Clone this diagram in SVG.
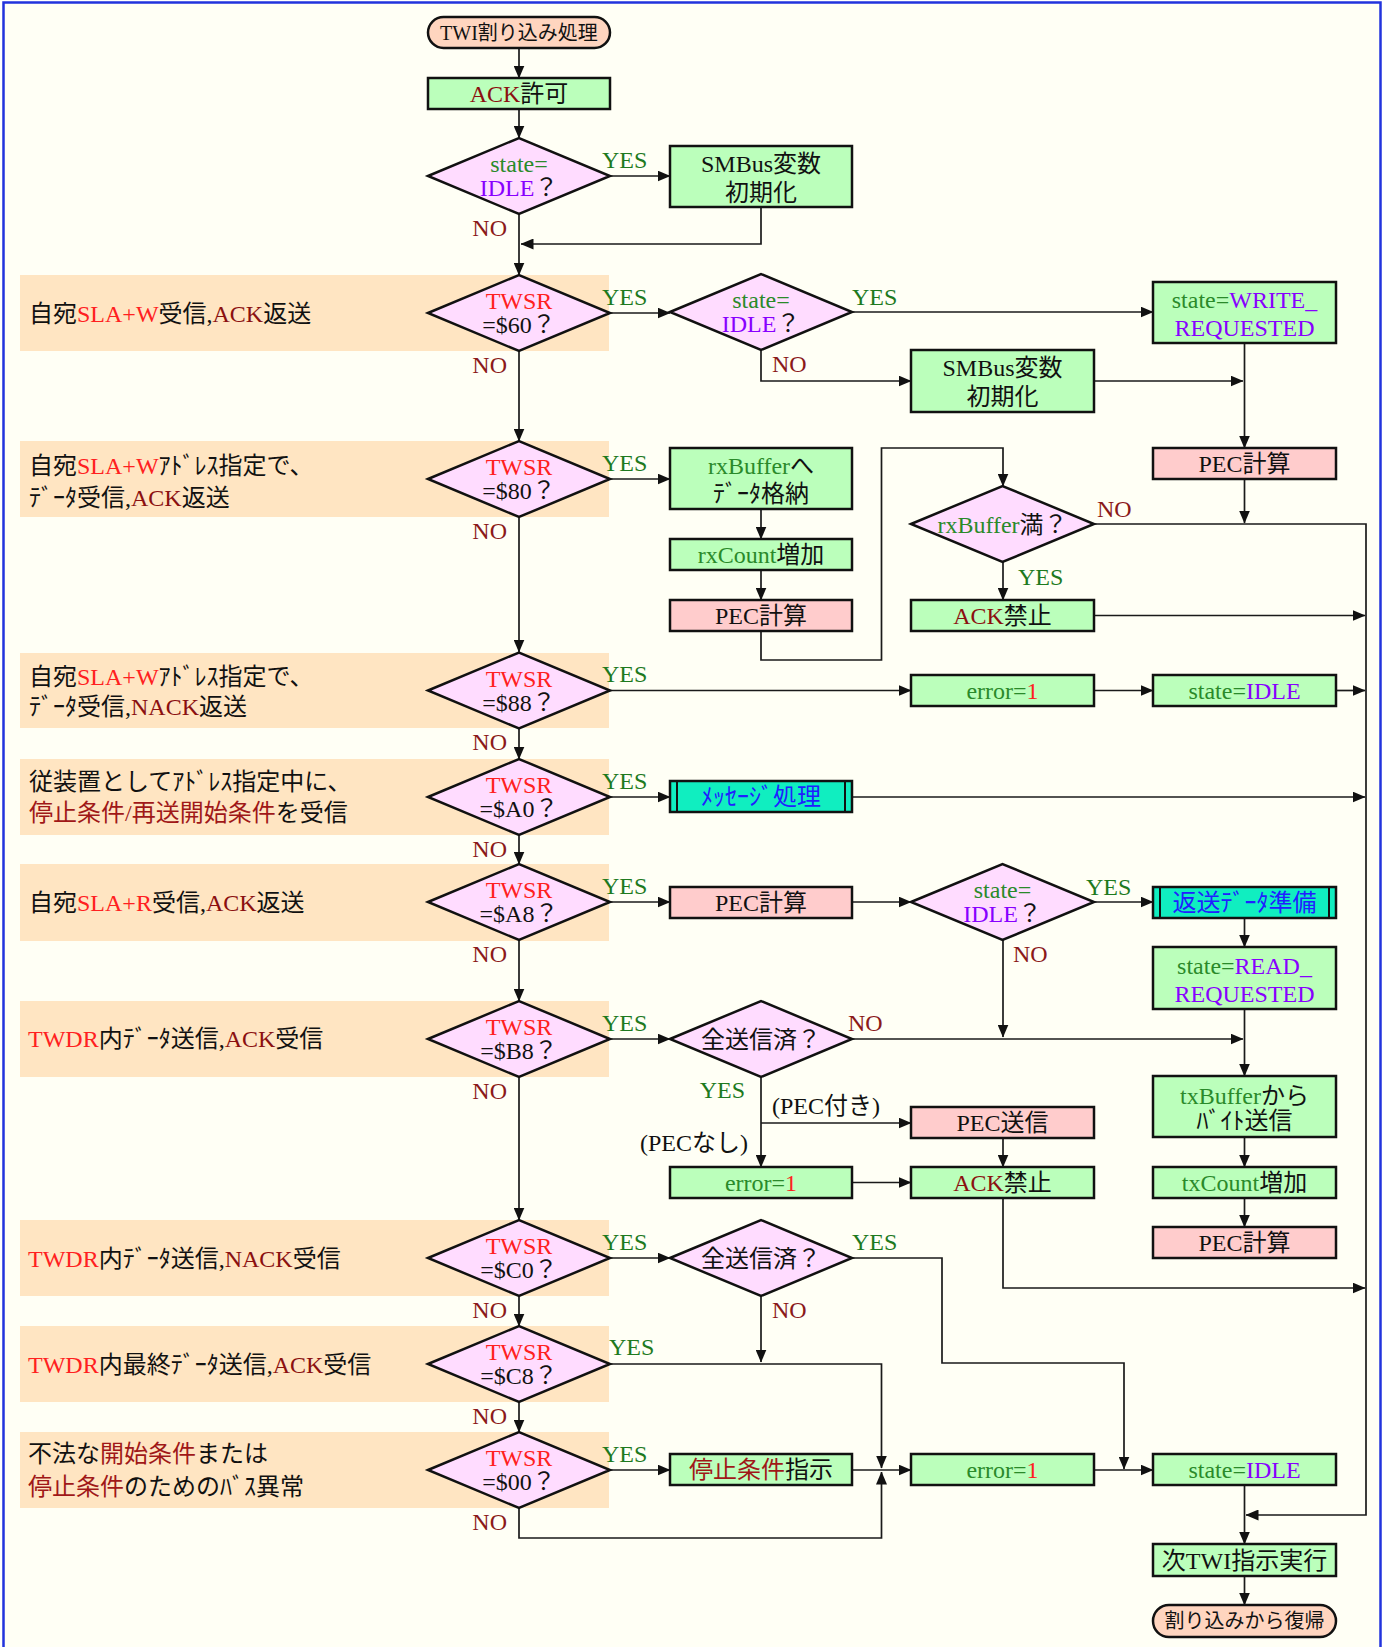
<svg xmlns="http://www.w3.org/2000/svg" width="1387" height="1647" viewBox="0 0 1387 1647">
<style>
text{font-family:"Liberation Serif","Noto Sans CJK JP",serif;font-size:24px;fill:#111}
.c{text-anchor:middle}
.tm{font-size:20px}
.band{fill:#ffe5c2}
.bx{stroke:#111;stroke-width:2.5}
.gb{fill:#bbffbb}
.pb{fill:#ffcccc}
.cb{fill:#10eec0}
.db{fill:#ffdcff}
.tb{fill:#ffd5bf}
.il{stroke:#111;stroke-width:2}
.ln{fill:none;stroke:#1a1a1a;stroke-width:1.7;marker-end:url(#ah)}
.yes{fill:#1e7a1e}
.no{fill:#8b1a1a}
.gr{fill:#2a8a2a}
.pu{fill:#8800ff}
.rd{fill:#ff2020}
.dr{fill:#8b1010}
.dr2{fill:#a01818}
.bl{fill:#2020ff}
</style>
<defs>
<marker id="ah" markerUnits="userSpaceOnUse" markerWidth="13" markerHeight="11" refX="12.5" refY="5.5" orient="auto">
<path d="M0,0 L13,5.5 L0,11 z" fill="#111"/>
</marker>
</defs>
<rect x="0" y="0" width="1387" height="1647" fill="#ffffff"/>
<rect x="3.5" y="2.5" width="1377" height="1660" fill="#fffff5" stroke="#2233dd" stroke-width="2.5"/>

<g id="bands">
<rect class="band" x="20" y="275" width="589" height="76"/>
<rect class="band" x="20" y="441" width="589" height="76"/>
<rect class="band" x="20" y="653" width="589" height="75"/>
<rect class="band" x="20" y="759" width="589" height="76"/>
<rect class="band" x="20" y="864" width="589" height="77"/>
<rect class="band" x="20" y="1001" width="589" height="76"/>
<rect class="band" x="20" y="1220" width="589" height="76"/>
<rect class="band" x="20" y="1326" width="589" height="76"/>
<rect class="band" x="20" y="1432" width="589" height="76"/>
<text x="29" y="321.5">自宛<tspan class="rd">SLA+W</tspan>受信,<tspan class="dr">ACK</tspan>返送</text>
<text x="29" y="473.5">自宛<tspan class="rd">SLA+W</tspan>ｱﾄﾞﾚｽ指定で、</text>
<text x="29" y="505.5">ﾃﾞｰﾀ受信,<tspan class="dr">ACK</tspan>返送</text>
<text x="29" y="685">自宛<tspan class="rd">SLA+W</tspan>ｱﾄﾞﾚｽ指定で、</text>
<text x="29" y="715">ﾃﾞｰﾀ受信,<tspan class="dr">NACK</tspan>返送</text>
<text x="29" y="790">従装置としてｱﾄﾞﾚｽ指定中に、</text>
<text x="29" y="821"><tspan class="dr2">停止条件/再送開始条件</tspan>を受信</text>
<text x="29" y="910.5">自宛<tspan class="rd">SLA+R</tspan>受信,<tspan class="dr">ACK</tspan>返送</text>
<text x="28" y="1047"><tspan class="rd">TWDR</tspan>内ﾃﾞｰﾀ送信,<tspan class="dr">ACK</tspan>受信</text>
<text x="28" y="1266.5"><tspan class="rd">TWDR</tspan>内ﾃﾞｰﾀ送信,<tspan class="dr">NACK</tspan>受信</text>
<text x="28" y="1372.5"><tspan class="rd">TWDR</tspan>内最終ﾃﾞｰﾀ送信,<tspan class="dr">ACK</tspan>受信</text>
<text x="28" y="1462">不法な<tspan class="dr2">開始条件</tspan>または</text>
<text x="28" y="1494.5"><tspan class="dr2">停止条件</tspan>のためのﾊﾞｽ異常</text>
</g>

<g id="connectors">
<path class="ln" d="M519,48 V78"/>
<path class="ln" d="M519,109 V138"/>
<path class="ln" d="M610,176 H670"/>
<path class="ln" d="M519,214 V275"/>
<path class="ln" d="M761,207 V244 H521"/>
<path class="ln" d="M610,313 H670"/>
<path class="ln" d="M852,312 H1153"/>
<path class="ln" d="M761,350 V381 H911"/>
<path class="ln" d="M1094,381 H1243"/>
<path class="ln" d="M1244.5,343 V448"/>
<path class="ln" d="M1244.5,479 V523"/>
<path class="ln" d="M519,351 V441"/>
<path class="ln" d="M610,479 H670"/>
<path class="ln" d="M761,509 V539"/>
<path class="ln" d="M761,570 V600"/>
<path class="ln" d="M761,631 V660 H881.5 V448 H1003 V486"/>
<path class="ln" d="M1094,524 H1366 V1515 H1246"/>
<path class="ln" d="M1003,562 V600"/>
<path class="ln" d="M1094,615.5 H1365"/>
<path class="ln" d="M519,517 V652"/>
<path class="ln" d="M610,690.5 H911"/>
<path class="ln" d="M1094,690.5 H1153"/>
<path class="ln" d="M1336,690.5 H1365"/>
<path class="ln" d="M519,728 V759"/>
<path class="ln" d="M610,797 H670"/>
<path class="ln" d="M852,797 H1365"/>
<path class="ln" d="M519,835 V864"/>
<path class="ln" d="M610,902 H670"/>
<path class="ln" d="M852,902 H911"/>
<path class="ln" d="M1094,902 H1153"/>
<path class="ln" d="M1244.5,918 V947"/>
<path class="ln" d="M1003,940 V1037"/>
<path class="ln" d="M519,940 V1001"/>
<path class="ln" d="M610,1039 H670"/>
<path class="ln" d="M852,1039 H1243"/>
<path class="ln" d="M1244.5,1009 V1076"/>
<path class="ln" d="M1244.5,1137 V1167"/>
<path class="ln" d="M1244.5,1198 V1227"/>
<path class="ln" d="M761,1077 V1167"/>
<path class="ln" d="M761,1123 H911"/>
<path class="ln" d="M1003,1138 V1167"/>
<path class="ln" d="M852,1182.5 H911"/>
<path class="ln" d="M1003,1198 V1288 H1365"/>
<path class="ln" d="M519,1077 V1220"/>
<path class="ln" d="M610,1258 H670"/>
<path class="ln" d="M852,1258 H942 V1363 H1124 V1469"/>
<path class="ln" d="M761,1296 V1362"/>
<path class="ln" d="M519,1296 V1326"/>
<path class="ln" d="M610,1364 H881.5 V1468"/>
<path class="ln" d="M519,1402 V1432"/>
<path class="ln" d="M610,1470 H670"/>
<path class="ln" d="M852,1470 H911"/>
<path class="ln" d="M519,1508 V1538 H881.5 V1472"/>
<path class="ln" d="M1094,1470 H1153"/>
<path class="ln" d="M1244.5,1485 V1544"/>
<path class="ln" d="M1244.5,1576 V1605"/>
<text class="yes" x="602" y="168">YES</text>
<text class="no" x="507" y="236" text-anchor="end">NO</text>
<text class="yes" x="602" y="305">YES</text>
<text class="no" x="507" y="373" text-anchor="end">NO</text>
<text class="yes" x="852" y="305">YES</text>
<text class="no" x="772" y="372">NO</text>
<text class="yes" x="602" y="471">YES</text>
<text class="no" x="507" y="539" text-anchor="end">NO</text>
<text class="no" x="1097" y="517">NO</text>
<text class="yes" x="1018" y="585">YES</text>
<text class="yes" x="602" y="682">YES</text>
<text class="no" x="507" y="750" text-anchor="end">NO</text>
<text class="yes" x="602" y="789">YES</text>
<text class="no" x="507" y="857" text-anchor="end">NO</text>
<text class="yes" x="602" y="894">YES</text>
<text class="no" x="507" y="962" text-anchor="end">NO</text>
<text class="yes" x="1086" y="895">YES</text>
<text class="no" x="1013" y="962">NO</text>
<text class="yes" x="602" y="1031">YES</text>
<text class="no" x="507" y="1099" text-anchor="end">NO</text>
<text class="no" x="848" y="1031">NO</text>
<text class="yes" x="745" y="1098" text-anchor="end">YES</text>
<text x="772" y="1113.5">(PEC付き)</text>
<text x="748" y="1150.5" text-anchor="end">(PECなし)</text>
<text class="yes" x="602" y="1250">YES</text>
<text class="no" x="507" y="1318" text-anchor="end">NO</text>
<text class="yes" x="852" y="1250">YES</text>
<text class="no" x="772" y="1318">NO</text>
<text class="yes" x="609" y="1355">YES</text>
<text class="no" x="507" y="1424" text-anchor="end">NO</text>
<text class="yes" x="602" y="1462">YES</text>
<text class="no" x="507" y="1530" text-anchor="end">NO</text>
</g>

<g id="start"><rect class="bx tb" x="428" y="17" width="182" height="31" rx="15.5"/><text class="c tm" x="519" y="39.5">TWI割り込み処理</text></g>
<g id="ackEnable"><rect class="bx gb" x="428" y="78" width="182" height="31"/><text class="c" x="519" y="102"><tspan class="dr">ACK</tspan>許可</text></g>
<g id="dIdle0"><polygon class="bx db" points="428,176 519,138 610,176 519,214"/><text class="c gr" x="519" y="172">state=</text><text class="c" x="519" y="196"><tspan class="pu">IDLE</tspan>？</text></g>
<g id="smbus1"><rect class="bx gb" x="670" y="146" width="182" height="61"/><text class="c" x="761" y="171.5">SMBus変数</text><text class="c" x="761" y="201">初期化</text></g>

<g id="d60"><polygon class="bx db" points="428,313 519,275 610,313 519,351"/><text class="c rd" x="519" y="309">TWSR</text><text class="c" x="519" y="333">=$60？</text></g>
<g id="dIdle1"><polygon class="bx db" points="670,312 761,274 852,312 761,350"/><text class="c gr" x="761" y="308">state=</text><text class="c" x="761" y="332"><tspan class="pu">IDLE</tspan>？</text></g>
<g id="writeReq"><rect class="bx gb" x="1153" y="282" width="183" height="61"/><text class="c" x="1244.5" y="307.5"><tspan class="gr">state=</tspan><tspan class="pu">WRITE_</tspan></text><text class="c pu" x="1244.5" y="336">REQUESTED</text></g>
<g id="smbus2"><rect class="bx gb" x="911" y="350" width="183" height="62"/><text class="c" x="1002.5" y="375.5">SMBus変数</text><text class="c" x="1002.5" y="405">初期化</text></g>
<g id="pec4a"><rect class="bx pb" x="1153" y="448" width="183" height="31"/><text class="c" x="1244.5" y="472">PEC計算</text></g>

<g id="d80"><polygon class="bx db" points="428,479 519,441 610,479 519,517"/><text class="c rd" x="519" y="475">TWSR</text><text class="c" x="519" y="499">=$80？</text></g>
<g id="rxBuf"><rect class="bx gb" x="670" y="448" width="182" height="61"/><text class="c" x="761" y="473.5"><tspan class="gr">rxBuffer</tspan>へ</text><text class="c" x="761" y="501.5">ﾃﾞｰﾀ格納</text></g>
<g id="rxCount"><rect class="bx gb" x="670" y="539" width="182" height="31"/><text class="c" x="761" y="563"><tspan class="gr">rxCount</tspan>増加</text></g>
<g id="pec2a"><rect class="bx pb" x="670" y="600" width="182" height="31"/><text class="c" x="761" y="624">PEC計算</text></g>
<g id="dRxFull"><polygon class="bx db" points="911,524 1002.5,486 1094,524 1002.5,562"/><text class="c" x="1002.5" y="533"><tspan class="gr">rxBuffer</tspan>満？</text></g>
<g id="ackDis1"><rect class="bx gb" x="911" y="600" width="183" height="31"/><text class="c" x="1002.5" y="624"><tspan class="dr">ACK</tspan>禁止</text></g>

<g id="d88"><polygon class="bx db" points="428,690.5 519,652.5 610,690.5 519,728.5"/><text class="c rd" x="519" y="686.5">TWSR</text><text class="c" x="519" y="710.5">=$88？</text></g>
<g id="err1"><rect class="bx gb" x="911" y="675" width="183" height="31"/><text class="c" x="1002.5" y="699"><tspan class="gr">error=</tspan><tspan class="rd">1</tspan></text></g>
<g id="idle1"><rect class="bx gb" x="1153" y="675" width="183" height="31"/><text class="c" x="1244.5" y="699"><tspan class="gr">state=</tspan><tspan class="pu">IDLE</tspan></text></g>

<g id="dA0"><polygon class="bx db" points="428,797 519,759 610,797 519,835"/><text class="c rd" x="519" y="793">TWSR</text><text class="c" x="519" y="817">=$A0？</text></g>
<g id="msg"><rect class="bx cb" x="670" y="781" width="182" height="31"/><path class="il" d="M677,781 V812 M845,781 V812"/><text class="c bl" x="761" y="805">ﾒｯｾｰｼﾞ処理</text></g>

<g id="dA8"><polygon class="bx db" points="428,902 519,864 610,902 519,940"/><text class="c rd" x="519" y="898">TWSR</text><text class="c" x="519" y="922">=$A8？</text></g>
<g id="pec2b"><rect class="bx pb" x="670" y="887" width="182" height="31"/><text class="c" x="761" y="911">PEC計算</text></g>
<g id="dIdle2"><polygon class="bx db" points="911,902 1002.5,864 1094,902 1002.5,940"/><text class="c gr" x="1002.5" y="898">state=</text><text class="c" x="1002.5" y="922"><tspan class="pu">IDLE</tspan>？</text></g>
<g id="retPrep"><rect class="bx cb" x="1153" y="887" width="183" height="31"/><path class="il" d="M1160,887 V918 M1329,887 V918"/><text class="c bl" x="1244.5" y="911">返送ﾃﾞｰﾀ準備</text></g>
<g id="readReq"><rect class="bx gb" x="1153" y="947" width="183" height="62"/><text class="c" x="1244.5" y="973.5"><tspan class="gr">state=</tspan><tspan class="pu">READ_</tspan></text><text class="c pu" x="1244.5" y="1001.5">REQUESTED</text></g>

<g id="dB8"><polygon class="bx db" points="428,1039 519,1001 610,1039 519,1077"/><text class="c rd" x="519" y="1035">TWSR</text><text class="c" x="519" y="1059">=$B8？</text></g>
<g id="dAll1"><polygon class="bx db" points="670,1039 761,1001 852,1039 761,1077"/><text class="c" x="761" y="1048">全送信済？</text></g>
<g id="txBuf"><rect class="bx gb" x="1153" y="1076" width="183" height="61"/><text class="c" x="1244.5" y="1103.5"><tspan class="gr">txBuffer</tspan>から</text><text class="c" x="1244.5" y="1128.5">ﾊﾞｲﾄ送信</text></g>
<g id="pecSend"><rect class="bx pb" x="911" y="1107" width="183" height="31"/><text class="c" x="1002.5" y="1131">PEC送信</text></g>
<g id="err2"><rect class="bx gb" x="670" y="1167" width="182" height="31"/><text class="c" x="761" y="1191"><tspan class="gr">error=</tspan><tspan class="rd">1</tspan></text></g>
<g id="ackDis2"><rect class="bx gb" x="911" y="1167" width="183" height="31"/><text class="c" x="1002.5" y="1191"><tspan class="dr">ACK</tspan>禁止</text></g>
<g id="txCount"><rect class="bx gb" x="1153" y="1167" width="183" height="31"/><text class="c" x="1244.5" y="1191"><tspan class="gr">txCount</tspan>増加</text></g>
<g id="pec4b"><rect class="bx pb" x="1153" y="1227" width="183" height="31"/><text class="c" x="1244.5" y="1251">PEC計算</text></g>

<g id="dC0"><polygon class="bx db" points="428,1258 519,1220 610,1258 519,1296"/><text class="c rd" x="519" y="1254">TWSR</text><text class="c" x="519" y="1278">=$C0？</text></g>
<g id="dAll2"><polygon class="bx db" points="670,1258 761,1220 852,1258 761,1296"/><text class="c" x="761" y="1267">全送信済？</text></g>

<g id="dC8"><polygon class="bx db" points="428,1364 519,1326 610,1364 519,1402"/><text class="c rd" x="519" y="1360">TWSR</text><text class="c" x="519" y="1384">=$C8？</text></g>

<g id="d00"><polygon class="bx db" points="428,1470 519,1432 610,1470 519,1508"/><text class="c rd" x="519" y="1466">TWSR</text><text class="c" x="519" y="1490">=$00？</text></g>
<g id="stopCmd"><rect class="bx gb" x="670" y="1454" width="182" height="31"/><text class="c" x="761" y="1478"><tspan class="dr2">停止条件</tspan>指示</text></g>
<g id="err3"><rect class="bx gb" x="911" y="1454" width="183" height="31"/><text class="c" x="1002.5" y="1478"><tspan class="gr">error=</tspan><tspan class="rd">1</tspan></text></g>
<g id="idle2"><rect class="bx gb" x="1153" y="1454" width="183" height="31"/><text class="c" x="1244.5" y="1478"><tspan class="gr">state=</tspan><tspan class="pu">IDLE</tspan></text></g>
<g id="nextTwi"><rect class="bx gb" x="1153" y="1544" width="183" height="32"/><text class="c" x="1244.5" y="1568.5">次TWI指示実行</text></g>
<g id="end"><rect class="bx tb" x="1153" y="1605" width="183" height="32" rx="16"/><text class="c tm" x="1244.5" y="1628">割り込みから復帰</text></g>
</svg>
